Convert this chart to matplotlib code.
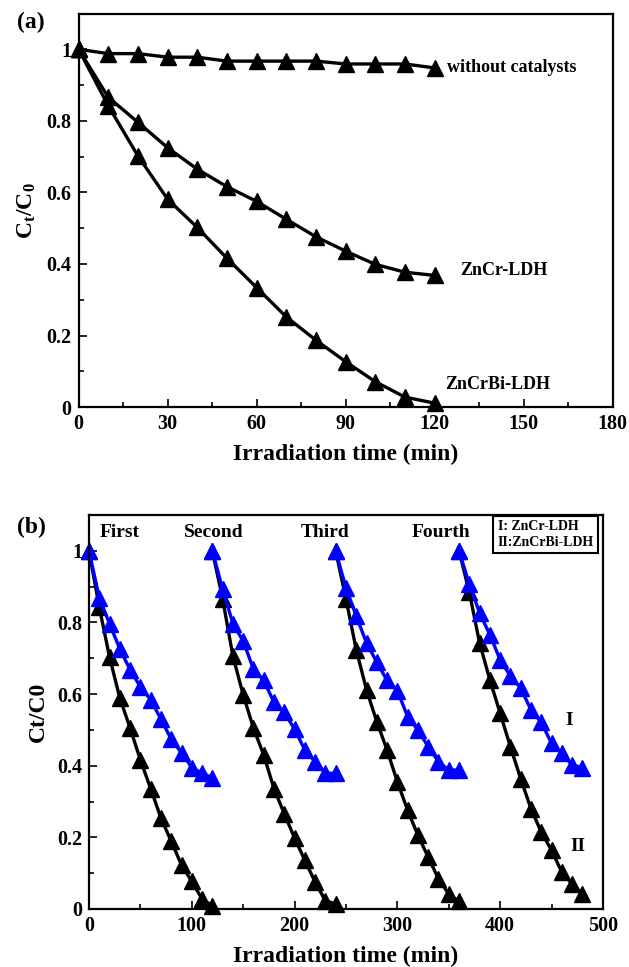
import numpy as np
import matplotlib
matplotlib.use("Agg")
import matplotlib.pyplot as plt
from matplotlib.ticker import MultipleLocator, FuncFormatter

plt.rcParams['font.family'] = ['Liberation Serif', 'DejaVu Serif']
plt.rcParams['font.weight'] = 'bold'
plt.rcParams['mathtext.fontset'] = 'custom'
plt.rcParams['mathtext.rm'] = 'Liberation Serif:bold'
plt.rcParams['mathtext.it'] = 'Liberation Serif:bold'
plt.rcParams['mathtext.bf'] = 'Liberation Serif:bold'

# ---------------- data: panel (a) ----------------
time_a = [0, 10, 20, 30, 40, 50, 60, 70, 80, 90, 100, 110, 120]
without_catalysts = [1.0, 0.988, 0.988, 0.978, 0.978, 0.967, 0.967, 0.967, 0.967, 0.959, 0.959, 0.959, 0.948]
zncr_ldh = [1.0, 0.866, 0.796, 0.725, 0.665, 0.616, 0.575, 0.525, 0.476, 0.436, 0.399, 0.377, 0.368]
zncrbi_ldh = [1.0, 0.842, 0.702, 0.581, 0.502, 0.416, 0.334, 0.252, 0.187, 0.127, 0.071, 0.028, 0.011]

# ---------------- data: panel (b) ----------------
cycle_time = [0, 10, 20, 30, 40, 50, 60, 70, 80, 90, 100, 110, 120]
cycle_starts = [0, 120, 240, 360]
cycle_names = ["First", "Second", "Third", "Fourth"]
zncr_cycle1 = [1.0, 0.869, 0.796, 0.726, 0.668, 0.620, 0.584, 0.530, 0.474, 0.436, 0.395, 0.379, 0.367]
zncr_cycle2 = [1.0, 0.893, 0.797, 0.748, 0.670, 0.638, 0.577, 0.549, 0.502, 0.444, 0.411, 0.379, 0.379]
zncr_cycle3 = [1.0, 0.897, 0.818, 0.743, 0.689, 0.638, 0.610, 0.537, 0.500, 0.453, 0.411, 0.388, 0.388]
zncr_cycle4 = [1.0, 0.907, 0.827, 0.766, 0.696, 0.650, 0.617, 0.556, 0.521, 0.463, 0.435, 0.402, 0.395]
zncrbi_cycle1 = [1.0, 0.843, 0.703, 0.589, 0.505, 0.416, 0.336, 0.254, 0.189, 0.123, 0.077, 0.028, 0.009]
zncrbi_cycle2 = [1.0, 0.866, 0.706, 0.598, 0.505, 0.430, 0.336, 0.266, 0.198, 0.136, 0.075, 0.023, 0.014]
zncrbi_cycle3 = [1.0, 0.866, 0.724, 0.612, 0.523, 0.444, 0.355, 0.276, 0.206, 0.145, 0.084, 0.042, 0.021]
zncrbi_cycle4 = [1.0, 0.885, 0.743, 0.640, 0.547, 0.453, 0.364, 0.280, 0.215, 0.164, 0.103, 0.070, 0.042]
zncr_cycles = [zncr_cycle1, zncr_cycle2, zncr_cycle3, zncr_cycle4]
zncrbi_cycles = [zncrbi_cycle1, zncrbi_cycle2, zncrbi_cycle3, zncrbi_cycle4]

BLUE = "#0000ff"
LW = 2.4
MS = 11
TICK_FS = 14.5
LABEL_FS = 17


def fmt(v, pos):
    s = ("%.1f" % v).rstrip('0').rstrip('.')
    return s if s != '-0' else '0'


def style_axes(ax, xmaj, xmin):
    for sp in ax.spines.values():
        sp.set_linewidth(1.6)
    ax.xaxis.set_major_locator(MultipleLocator(xmaj))
    ax.xaxis.set_minor_locator(MultipleLocator(xmin))
    ax.yaxis.set_major_locator(MultipleLocator(0.2))
    ax.yaxis.set_minor_locator(MultipleLocator(0.1))
    ax.yaxis.set_major_formatter(FuncFormatter(fmt))
    ax.tick_params(which='both', direction='in', top=False, right=False, width=1.2)
    ax.tick_params(which='major', length=6, labelsize=TICK_FS, pad=5)
    ax.tick_params(which='minor', length=3.5)
    for lab in ax.get_xticklabels() + ax.get_yticklabels():
        lab.set_fontweight('bold')


fig = plt.figure(figsize=(6.29, 9.67), dpi=100)

# ---------------- panel (a) ----------------
ax1 = fig.add_axes([0.125, 0.579, 0.849, 0.407])
for series in (without_catalysts, zncr_ldh, zncrbi_ldh):
    ax1.plot(time_a, series, color='k', lw=LW, marker='^', ms=MS, clip_on=False)
ax1.set_xlim(0, 180)
ax1.set_ylim(0, 1.1)
style_axes(ax1, 30, 15)
ax1.set_xlabel("Irradiation time (min)", fontsize=LABEL_FS, fontweight='bold', labelpad=7)
ax1.set_ylabel(r"C$_\mathregular{t}$/C$_\mathregular{0}$", fontsize=LABEL_FS, fontweight='bold', labelpad=6)
ax1.text(124, 0.95, "without catalysts", fontsize=13, fontweight='bold', va='center', ha='left')
ax1.text(128.5, 0.383, "ZnCr-LDH", fontsize=13, fontweight='bold', va='center', ha='left')
ax1.text(123.5, 0.064, "ZnCrBi-LDH", fontsize=13, fontweight='bold', va='center', ha='left')
fig.text(0.027, 0.977, "(a)", fontsize=17, fontweight='bold', va='center', ha='left')

# ---------------- panel (b) ----------------
ax2 = fig.add_axes([0.1415, 0.060, 0.8170, 0.4074])
for start, vals in zip(cycle_starts, zncrbi_cycles):
    ax2.plot(np.array(cycle_time) + start, vals, color='k', lw=LW, marker='^', ms=MS, clip_on=False)
for start, vals in zip(cycle_starts, zncr_cycles):
    ax2.plot(np.array(cycle_time) + start, vals, color=BLUE, lw=LW, marker='^', ms=MS, clip_on=False)
ax2.set_xlim(0, 500)
ax2.set_ylim(0, 1.1)
style_axes(ax2, 100, 50)
ax2.set_xlabel("Irradiation time (min)", fontsize=LABEL_FS, fontweight='bold', labelpad=7)
ax2.set_ylabel("Ct/C0", fontsize=LABEL_FS, fontweight='bold', labelpad=6)
name_x = [30, 121, 230, 342]
for nx, name in zip(name_x, cycle_names):
    ax2.text(nx, 1.05, name, fontsize=14, fontweight='bold', ha='center', va='center')
ax2.text(0.795, 0.988, "I: ZnCr-LDH\nII:ZnCrBi-LDH", transform=ax2.transAxes,
         fontsize=10, fontweight='bold', ha='left', va='top', linespacing=1.35,
         bbox=dict(boxstyle='square,pad=0.3', fc='white', ec='k', lw=1.5))
ax2.text(467, 0.525, "I", fontsize=14, fontweight='bold', ha='center', va='center')
ax2.text(476, 0.175, "II", fontsize=14, fontweight='bold', ha='center', va='center')
fig.text(0.027, 0.455, "(b)", fontsize=17, fontweight='bold', va='center', ha='left')

fig.savefig("out.png", dpi=100)
